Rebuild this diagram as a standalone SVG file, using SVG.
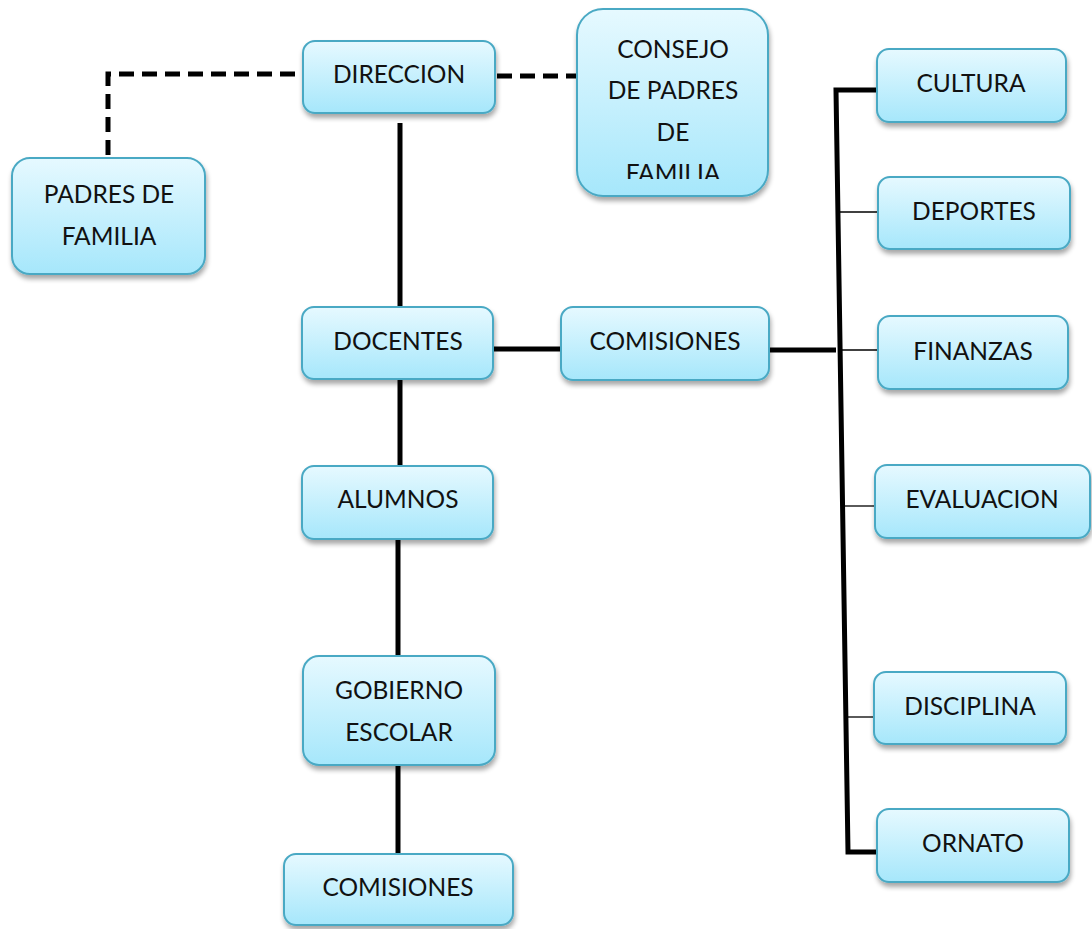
<svg xmlns="http://www.w3.org/2000/svg" width="1092" height="929" viewBox="0 0 1092 929">
<defs>
<linearGradient id="g" x1="0" y1="0" x2="0" y2="1">
<stop offset="0" stop-color="#e6f9ff"/>
<stop offset="1" stop-color="#a6e7fb"/>
</linearGradient>
<filter id="sh" x="-10%" y="-10%" width="125%" height="135%">
<feGaussianBlur in="SourceAlpha" stdDeviation="2.5"/>
<feOffset dx="1" dy="4" result="b"/>
<feComponentTransfer><feFuncA type="linear" slope="0.35"/></feComponentTransfer>
<feMerge><feMergeNode/><feMergeNode in="SourceGraphic"/></feMerge>
</filter>
<clipPath id="cc"><rect x="577" y="9" width="191" height="170"/></clipPath>
</defs>
<style>
.b{fill:url(#g);stroke:#4aa9c4;stroke-width:2;filter:url(#sh)}
.t{font-family:"Lato","Liberation Sans",sans-serif;font-size:24.5px;fill:#111;text-anchor:middle}
.c{stroke:#000;stroke-width:5;fill:none}
.d{stroke:#000;stroke-width:5;fill:none;stroke-dasharray:15 8}
.n{stroke:#000;stroke-width:1.3;fill:none}
</style>
<rect width="1092" height="929" fill="#fff"/>
<g id="connectors">
<path class="d" d="M108 155 V74 H303"/>
<path class="d" d="M497 76 H577"/>
<path class="c" d="M400 123 V307"/>
<path class="c" d="M400 379 V466"/>
<path class="c" d="M398 539 V656"/>
<path class="c" d="M398 765 V854"/>
<path class="c" d="M493 349 H561"/>
<path class="c" d="M769 350 H836"/>
<path class="c" d="M877 90 H836 L848 852 H877"/>
<path class="n" d="M839 212 H878"/>
<path class="n" d="M840 350 H878"/>
<path class="n" d="M843 506 H875"/>
<path class="n" d="M846 717 H874"/>
</g>
<g id="direccion"><rect class="b" x="303" y="41" width="192" height="72" rx="12"/><text class="t" x="399" y="83">DIRECCION</text></g>
<g id="consejo"><rect class="b" x="577" y="9" width="191" height="187" rx="26"/><g clip-path="url(#cc)"><text class="t" x="673" y="58">CONSEJO</text><text class="t" x="673" y="99">DE PADRES</text><text class="t" x="673" y="141">DE</text><text class="t" x="673" y="182">FAMILIA</text></g></g>
<g id="padres"><rect class="b" x="12" y="158" width="193" height="116" rx="18"/><text class="t" x="109" y="203">PADRES DE</text><text class="t" x="109" y="245">FAMILIA</text></g>
<g id="docentes"><rect class="b" x="302" y="307" width="191" height="72" rx="12"/><text class="t" x="398" y="350">DOCENTES</text></g>
<g id="comisiones1"><rect class="b" x="561" y="307" width="208" height="73" rx="12"/><text class="t" x="665" y="350">COMISIONES</text></g>
<g id="alumnos"><rect class="b" x="302" y="466" width="191" height="73" rx="12"/><text class="t" x="398" y="508">ALUMNOS</text></g>
<g id="gobierno"><rect class="b" x="303" y="656" width="192" height="109" rx="16"/><text class="t" x="399" y="699">GOBIERNO</text><text class="t" x="399" y="741">ESCOLAR</text></g>
<g id="comisiones2"><rect class="b" x="284" y="854" width="229" height="71" rx="12"/><text class="t" x="398" y="896">COMISIONES</text></g>
<g id="cultura"><rect class="b" x="877" y="49" width="189" height="73" rx="12"/><text class="t" x="971" y="92">CULTURA</text></g>
<g id="deportes"><rect class="b" x="878" y="177" width="192" height="72" rx="12"/><text class="t" x="974" y="220">DEPORTES</text></g>
<g id="finanzas"><rect class="b" x="878" y="316" width="190" height="73" rx="12"/><text class="t" x="973" y="360">FINANZAS</text></g>
<g id="evaluacion"><rect class="b" x="875" y="465" width="215" height="73" rx="12"/><text class="t" x="982" y="508">EVALUACION</text></g>
<g id="disciplina"><rect class="b" x="874" y="672" width="192" height="72" rx="12"/><text class="t" x="970" y="715">DISCIPLINA</text></g>
<g id="ornato"><rect class="b" x="877" y="809" width="192" height="73" rx="12"/><text class="t" x="973" y="852">ORNATO</text></g>
</svg>
